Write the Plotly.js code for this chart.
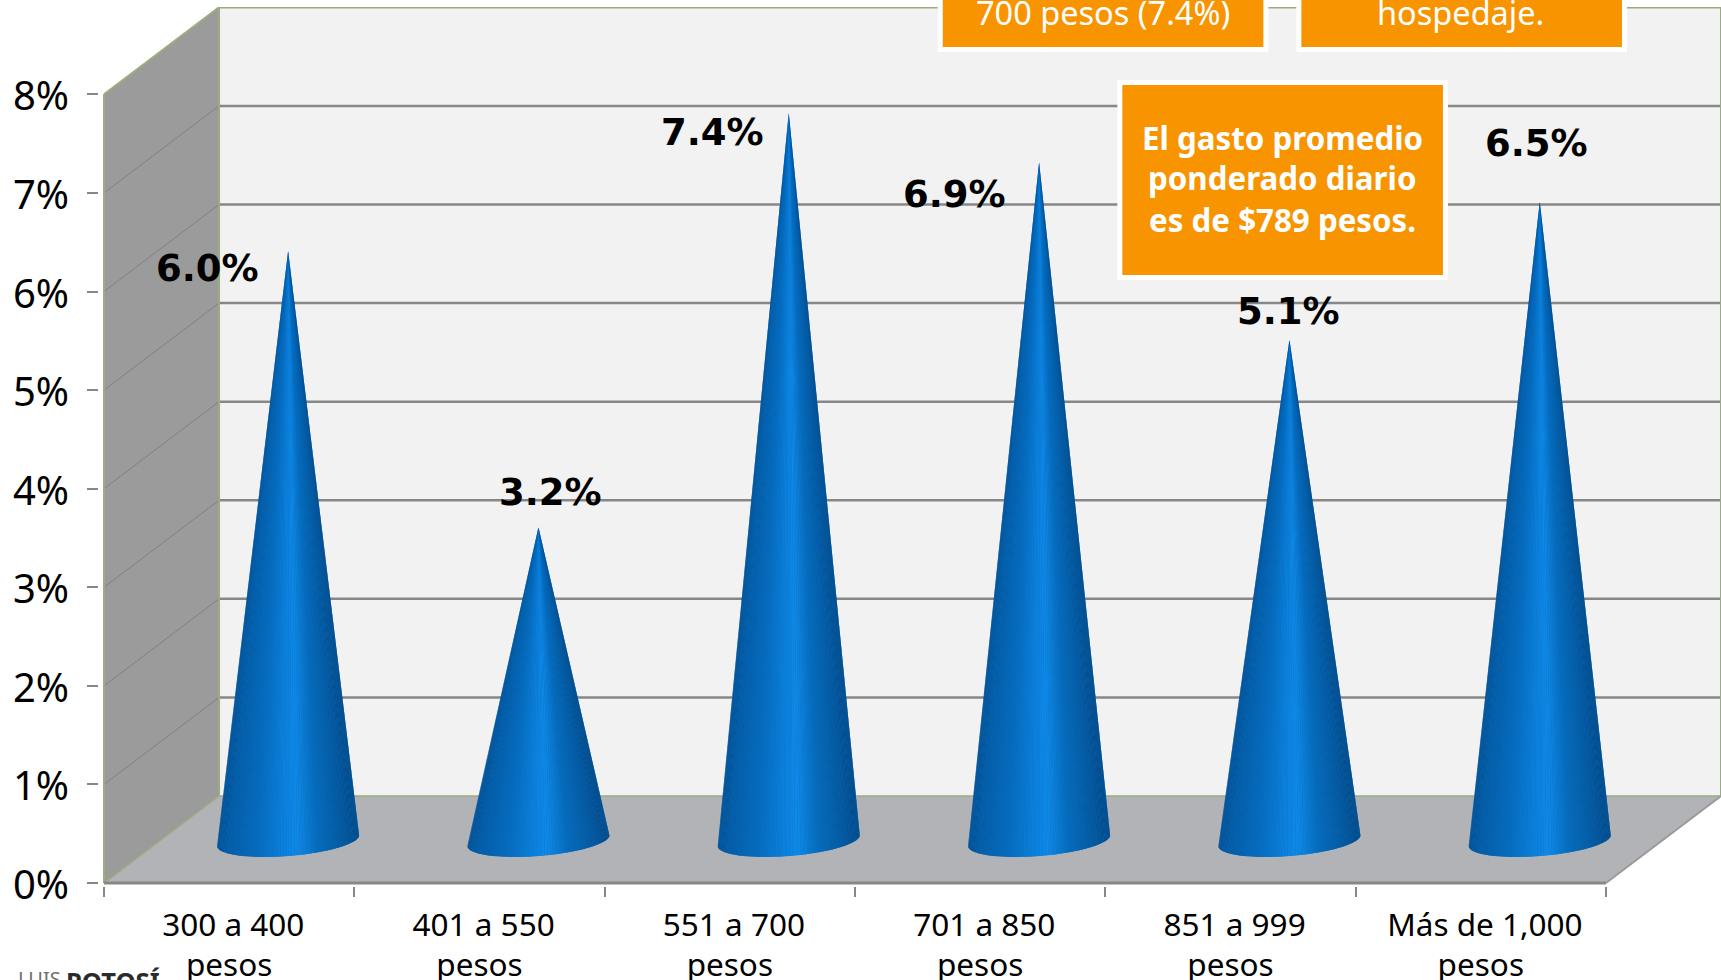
<!DOCTYPE html>
<html>
<head>
<meta charset="utf-8">
<script src="https://cdn.plot.ly/plotly-3.0.1.min.js"></script>
<style>html,body{margin:0;padding:0;background:#fff;overflow:hidden}#chart{width:1721px;height:980px}</style>
</head>
<body>
<div id="chart"></div>
<script>
// ---- data ----
const categories = ['&nbsp;300 a 400<br>pesos', '&nbsp;401 a 550<br>pesos', '&nbsp;551 a 700<br>pesos', '&nbsp;701 a 850<br>pesos', '&nbsp;851 a 999<br>pesos', '&nbsp;Más de 1,000<br>pesos'];
const values = [6.0, 3.2, 7.4, 6.9, 5.1, 6.5];
const valueLabels = ['6.0%', '3.2%', '7.4%', '6.9%', '5.1%', '6.5%'];
const yTicks = [0, 1, 2, 3, 4, 5, 6, 7, 8];
const yTickLabels = ['0%', '1%', '2%', '3%', '4%', '5%', '6%', '7%', '8%'];

// ---- geometry (pixels of the 1721x980 picture) ----
const W = 1721, H = 980;
const X0 = 104.5, PX_CAT = 250.25, Y0 = 882.7, PX_PCT = 98.55;
const DEPTH_X = 115 / PX_CAT, DEPTH_Y = 87 / PX_PCT;
const PAD_X = 0.02, PAD_Y = 0.03;
const mL = X0 - PAD_X * PX_CAT, mB = H - Y0 - PAD_Y * PX_PCT, mT = 7, mR = 0;
const xRange = [-0.5 - PAD_X, (W - X0) / PX_CAT - 0.5];
const yRange = [-PAD_Y, (Y0 - mT) / PX_PCT];
const px = x => (x - mL) / (W - mL - mR);
const py = y => 1 - (y - mT) / (H - mT - mB);
const LX = -0.5, RX = 5.5;

// ---- cones: apex and tilted base ellipse, in axis units ----
const CONE_X = 0.2355, CONE_Y = 0.41, RIM_Y = 0.43;
const A = [71 / PX_CAT, 5 / PX_PCT], B = [-2 / PX_CAT, -15.5 / PX_PCT];
const BANDS = 80;
const stops = [[0, [6, 78, 140]], [0.08, [5, 92, 165]], [0.3, [6, 108, 190]], [0.5, [12, 130, 222]], [0.58, [15, 136, 230]], [0.72, [6, 108, 188]], [0.9, [5, 88, 158]], [1, [4, 72, 130]]];
function shade(u) {
  for (let i = 1; i < stops.length; i++) {
    if (u <= stops[i][0]) {
      const f = (u - stops[i - 1][0]) / (stops[i][0] - stops[i - 1][0]);
      const c = stops[i - 1][1].map((v, k) => Math.round(v + f * (stops[i][1][k] - v)));
      return `rgb(${c.join(',')})`;
    }
  }
  return 'rgb(4,72,130)';
}
const rim = (i, t) => [i + CONE_X - A[0] * Math.cos(t) + B[0] * Math.sin(t), RIM_Y - A[1] * Math.cos(t) + B[1] * Math.sin(t)];

const traces = [];
values.forEach((v, i) => {
  const xs = [i + CONE_X], ys = [v + CONE_Y];
  for (let k = 0; k <= BANDS; k++) { const p = rim(i, Math.PI * k / BANDS); xs.push(p[0]); ys.push(p[1]); }
  xs.push(i + CONE_X); ys.push(v + CONE_Y);
  traces.push({ x: xs, y: ys, mode: 'lines', fill: 'toself', fillcolor: 'rgb(8,110,195)', line: { width: 0 }, name: categories[i].replace('<br>', ' '), hoverinfo: 'skip', showlegend: false });
});
for (let k = 0; k < BANDS; k++) {
  const xs = [], ys = [];
  values.forEach((v, i) => {
    const p = rim(i, Math.PI * k / BANDS), q = rim(i, Math.PI * (k + 1) / BANDS);
    xs.push(i + CONE_X, p[0], q[0], i + CONE_X, null);
    ys.push(v + CONE_Y, p[1], q[1], v + CONE_Y, null);
  });
  const tMid = Math.PI * (k + 0.5) / BANDS;
  const col = shade((1 - Math.cos(tMid)) / 2);
  traces.push({ x: xs, y: ys, mode: 'none', fill: 'toself', fillcolor: col, hoverinfo: 'skip', showlegend: false });
}

// ---- walls, floor, grid ----
const GREEN = '#9dac7e', GRID = '#878787';
const poly = (pts, fill, extra) => Object.assign({ type: 'path', xref: 'x', yref: 'y', layer: 'below', path: 'M' + pts.map(p => p.join(',')).join('L') + 'Z', fillcolor: fill, line: { width: 0 } }, extra || {});
const seg = (x0, y0, x1, y1, color, width) => ({ type: 'line', xref: 'x', yref: 'y', layer: 'below', x0, y0, x1, y1, line: { color, width } });
const YT = 8, BX = LX + DEPTH_X, BR = RX + DEPTH_X;
const shapes = [
  poly([[BX, DEPTH_Y], [BR, DEPTH_Y], [BR, YT + DEPTH_Y], [BX, YT + DEPTH_Y]], '#f2f2f2'),
  poly([[LX, 0], [BX, DEPTH_Y], [BX, YT + DEPTH_Y], [LX, YT]], '#9b9b9b'),
  poly([[LX, 0], [RX, 0], [BR, DEPTH_Y], [BX, DEPTH_Y]], '#b1b3b7')
];
yTicks.slice(1).forEach(v => {
  if (v < 8) shapes.push(seg(BX, v + DEPTH_Y, BR, v + DEPTH_Y, GRID, 2.5));
  if (v < 8) shapes.push(seg(LX, v, BX, v + DEPTH_Y, '#808080', 1));
});
shapes.push(seg(BX, YT + DEPTH_Y, BR, YT + DEPTH_Y, GREEN, 2.5));
shapes.push(seg(BX, DEPTH_Y, BX, YT + DEPTH_Y, GREEN, 2));
shapes.push(seg(BR, DEPTH_Y, BR, YT + DEPTH_Y, GREEN, 2));
shapes.push(seg(LX, 0, LX, YT, GREEN, 2));
shapes.push(seg(LX, YT, BX, YT + DEPTH_Y, GREEN, 2));
shapes.push(seg(BX, DEPTH_Y, BR, DEPTH_Y, GREEN, 1.5));
shapes.push(seg(LX, 0, BX, DEPTH_Y, GREEN, 1.5));
shapes.push(seg(RX, 0, BR, DEPTH_Y, '#9a9a9a', 2));
shapes.push(seg(LX, 0, RX, 0, GRID, 3));

// ---- callout boxes ----
const box = (x0, y0, x1, y1) => ({ type: 'rect', xref: 'paper', yref: 'paper', layer: 'above', x0: px(x0), x1: px(x1), y0: py(y1), y1: py(y0), fillcolor: '#f79400', line: { color: '#ffffff', width: 5 } });
shapes.push(box(940.5, -20, 1266, 49.5));
shapes.push(box(1299, -20, 1624.5, 49.5));
shapes.push(box(1120, 82.5, 1445.5, 277.5));

// ---- text ----
const labelShift = [[-80.5, -17], [12, 35], [-76, -19], [-84.5, -32], [-1, 28.7], [-3, 58]];
const annotations = values.map((v, i) => ({
  x: i + CONE_X, y: v + CONE_Y, xref: 'x', yref: 'y', text: '<b>' + valueLabels[i] + '</b>', showarrow: false,
  xanchor: 'center', yanchor: 'middle', xshift: labelShift[i][0], yshift: labelShift[i][1],
  font: { family: '"DejaVu Sans", sans-serif', size: 37, color: '#000' }
}));
const note = (text, x, y, size, bold) => ({
  xref: 'paper', yref: 'paper', x: px(x), y: py(y), text: bold ? '<b>' + text + '</b>' : text, showarrow: false,
  xanchor: 'center', yanchor: 'middle', font: { family: '"Noto Sans", sans-serif', size, color: '#fff' }
});
annotations.push(note('700 pesos (7.4%)', 1103.5, 12, 32.5));
annotations.push(note('hospedaje.', 1461, 12, 32.5));
annotations.push(note('El gasto promedio', 1282.5, 138, 31.3, true));
annotations.push(note('ponderado diario', 1282.5, 178, 31.3, true));
annotations.push(note('es de $789 pesos.', 1282.5, 220, 31.3, true));
annotations.push({
  xref: 'paper', yref: 'paper', x: px(17), y: py(978.5), xanchor: 'left', yanchor: 'middle', showarrow: false,
  text: 'LUIS', font: { family: '"Noto Sans", sans-serif', size: 20, color: '#707070' }
});
annotations.push({
  xref: 'paper', yref: 'paper', x: px(162), y: py(980.5), xanchor: 'right', yanchor: 'middle', showarrow: false,
  text: '<b>POTOSÍ</b>', font: { family: '"Noto Sans", sans-serif', size: 25.5, color: '#2b2b2b' }
});

const layout = {
  width: W, height: H,
  margin: { l: mL, r: mR, t: mT, b: mB, pad: 0 },
  paper_bgcolor: '#ffffff', plot_bgcolor: '#ffffff',
  showlegend: false, hovermode: false,
  xaxis: {
    type: 'linear', range: xRange, tickmode: 'array', tickvals: categories.map((c, i) => i), ticktext: categories,
    ticks: '', showgrid: false, zeroline: false, showline: false, ticklabelstandoff: 17,
    tickfont: { family: '"Noto Sans", sans-serif', size: 31.5, color: '#000' },
    minor: { tickmode: 'array', tickvals: [-0.5, 0.5, 1.5, 2.5, 3.5, 4.5, 5.5], ticks: 'outside', ticklen: 10, tickwidth: 2, tickcolor: '#878787', showgrid: false }
  },
  yaxis: {
    range: yRange, tickmode: 'array', tickvals: yTicks, ticktext: yTickLabels,
    ticks: '', showgrid: false, zeroline: false, showline: false, ticklabelstandoff: 29, ticklabelshift: 2,
    tickfont: { family: '"Noto Sans", sans-serif', size: 40, color: '#000' },
    minor: { tickmode: 'array', tickvals: yTicks, ticks: 'outside', ticklen: 11, tickwidth: 2, tickcolor: '#878787', showgrid: false }
  },
  shapes, annotations
};
Plotly.newPlot('chart', traces, layout, { displayModeBar: false, staticPlot: true });
</script>
</body>
</html>
